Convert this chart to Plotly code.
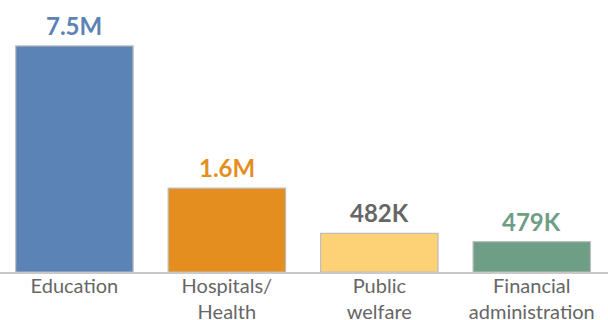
import plotly.graph_objects as go

categories = ["Education", "Hospitals/<br>Health", "Public<br>welfare", "Financial<br>administration"]
bar_heights = [7.5, 2.78, 1.28, 1.01]
value_labels = ["7.5M", "1.6M", "482K", "479K"]
bar_colors = ["#5B83B5", "#E48E1F", "#FDD277", "#6E9E86"]
label_colors = ["#5B83B5", "#E48E1F", "#666666", "#6E9E86"]

fig = go.Figure(go.Bar(
    x=list(range(len(categories))),
    y=bar_heights,
    width=0.77,
    marker=dict(color=bar_colors, line=dict(color="#BDBDBD", width=1.2)),
    cliponaxis=False,
))

for i, (h, lab, col) in enumerate(zip(bar_heights, value_labels, label_colors)):
    fig.add_annotation(
        x=i, y=h, text="<b>%s</b>" % lab, showarrow=False,
        xanchor="center", yanchor="bottom", yshift=4,
        font=dict(family="Lato", size=24, color=col),
    )

fig.update_layout(
    width=608, height=320,
    margin=dict(l=0, r=0, t=20, b=48),
    paper_bgcolor="white", plot_bgcolor="white",
    showlegend=False,
    xaxis=dict(
        range=[-0.488, 3.5], automargin=False,
        tickmode="array", tickvals=list(range(len(categories))), ticktext=categories,
        tickfont=dict(family="Lato", size=20, color="#666666"),
        ticklabelstandoff=-5,
        showline=True, linecolor="#C8C8C8", linewidth=1.5,
        showgrid=False, zeroline=False, ticks="",
    ),
    yaxis=dict(range=[0, 8.36], visible=False),
)

fig.write_html("out.html")
